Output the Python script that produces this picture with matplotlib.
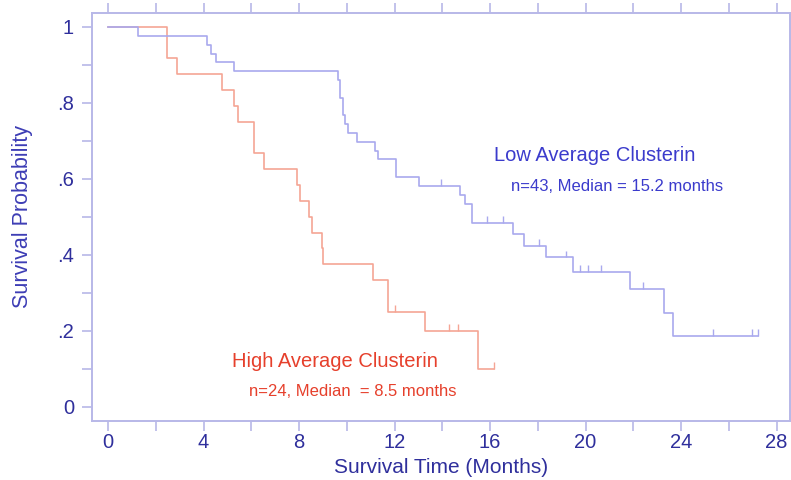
import matplotlib
matplotlib.use("Agg")
import matplotlib.pyplot as plt
from matplotlib.ticker import MultipleLocator, FixedLocator

plt.rcParams['font.family'] = ['Liberation Sans', 'DejaVu Sans']

# ---- data ----
times_high = [0, 2.46, 2.87, 4.77, 5.29, 5.44, 6.11, 6.52, 7.90, 8.05, 8.42, 8.54, 8.95, 9.02, 11.11, 11.74, 13.27, 15.51, 16.15]
surv_high = [1.0, 0.917, 0.875, 0.833, 0.792, 0.750, 0.667, 0.625, 0.583, 0.542, 0.500, 0.458, 0.417, 0.375, 0.333, 0.250, 0.200, 0.100, 0.100]
censor_high_t = [12.02, 14.28, 14.64, 16.15]
censor_high_s = [0.250, 0.200, 0.200, 0.100]

times_low = [0, 1.24, 4.13, 4.30, 4.52, 5.28, 9.64, 9.72, 9.85, 9.93, 10.06, 10.41, 11.18, 11.32, 12.08, 13.04,
             14.74, 14.95, 15.23, 16.95, 17.42, 18.33, 19.46, 21.86, 23.28, 23.65, 27.2]
surv_low = [1.0, 0.977, 0.953, 0.930, 0.907, 0.884, 0.860, 0.814, 0.767, 0.744, 0.721, 0.698, 0.674, 0.651, 0.605, 0.581,
            0.557, 0.535, 0.484, 0.456, 0.424, 0.393, 0.355, 0.309, 0.246, 0.187, 0.187]
censor_low_t = [13.95, 15.87, 16.56, 18.06, 19.20, 19.77, 20.12, 20.65, 22.42, 25.35, 26.98, 27.20]
censor_low_s = [0.581, 0.484, 0.484, 0.424, 0.393, 0.355, 0.355, 0.355, 0.309, 0.187, 0.187, 0.187]

x_major = [0, 4, 8, 12, 16, 20, 24, 28]
y_major = [0, 0.2, 0.4, 0.6, 0.8, 1.0]
y_labels = ['0', '.2', '.4', '.6', '.8', '1']

label_low = "Low Average Clusterin"
stat_low = "n=43, Median = 15.2 months"
label_high = "High Average Clusterin"
stat_high = "n=24, Median  = 8.5 months"

# ---- styles ----
blue_line = '#a9a9ee'
red_line = '#f5a595'
spine_c = '#b8b8e8'
tick_txt = '#2f2f9c'
blue_txt = '#3b3bcc'
red_txt = '#e6402c'

fig = plt.figure(figsize=(7.91, 4.80), dpi=100)
ax = fig.add_axes([92/791, 1-420.7/480, (790-92)/791, (420.7-13.3)/480])
ax.set_xlim(-0.67, 28.56)
ax.set_ylim(-0.037, 1.036)

ax.step(times_high, surv_high, where='post', color=red_line, lw=1.2)
ax.step(times_low, surv_low, where='post', color=blue_line, lw=1.2)
cl = 0.018
ax.vlines(censor_high_t, censor_high_s, [s + cl for s in censor_high_s], color=red_line, lw=1.0)
ax.vlines(censor_low_t, censor_low_s, [s + cl for s in censor_low_s], color=blue_line, lw=1.0)

for s in ax.spines.values():
    s.set_color(spine_c)
    s.set_linewidth(1.4)

ax.xaxis.set_major_locator(FixedLocator(x_major))
ax.xaxis.set_minor_locator(MultipleLocator(2))
ax.yaxis.set_major_locator(FixedLocator(y_major))
ax.set_yticklabels(y_labels)
ax.yaxis.set_minor_locator(MultipleLocator(0.1))

ax.tick_params(axis='both', which='both', direction='out', color=spine_c, width=1.2, length=7,
               labelcolor=tick_txt, labelsize=14.5)
ax.tick_params(axis='x', which='both', top=True, bottom=True, pad=1.5)
ax.tick_params(axis='y', which='both', left=True, right=False, pad=6)

ax.set_xlabel("Survival Time (Months)", fontsize=15, color=tick_txt, labelpad=4.5)
ax.set_ylabel("Survival Probability", fontsize=15.5, color='#3d3db5', labelpad=17)

ax.text(16.16, 0.662, label_low, color=blue_txt, fontsize=14.5, ha='left', va='center')
ax.text(16.88, 0.581, stat_low, color=blue_txt, fontsize=12, ha='left', va='center')
ax.text(5.19, 0.118, label_high, color=red_txt, fontsize=14.5, ha='left', va='center')
ax.text(5.90, 0.039, stat_high, color=red_txt, fontsize=12, ha='left', va='center')

fig.savefig('out.png', dpi=100)
